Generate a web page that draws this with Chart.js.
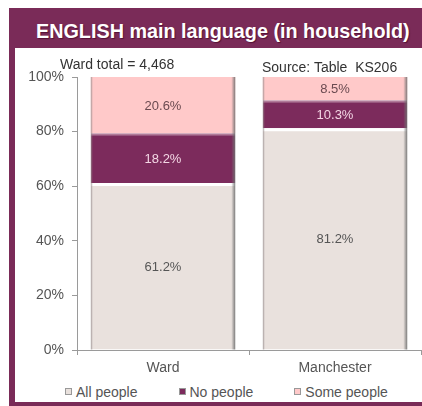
<!DOCTYPE html>
<html>
<head>
<meta charset="utf-8">
<title>ENGLISH main language (in household)</title>
<script src="https://cdn.jsdelivr.net/npm/chart.js@4/dist/chart.umd.min.js"></script>
<style>
  body { margin: 0; background: #fff; font-family: "Liberation Sans", Arial, sans-serif; }
  #frame { position: absolute; left: 9px; top: 8px; width: 413px; height: 398px; background: #7a2b58; }
  #title { position: absolute; left: 27px; top: 3px; height: 40px; line-height: 40px; color: #fff;
           font-weight: bold; font-size: 19.8px; white-space: nowrap; text-shadow: 1px 1px 1px rgba(60,0,30,.6); }
  #panel { position: absolute; left: 6px; top: 40px; width: 407px; height: 354px; background: #fff; overflow: hidden; }
  #chartBox { position: absolute; left: 0; top: 0; width: 407px; height: 332px; }
  .note { position: absolute; font-size: 14px; color: #333; white-space: pre; line-height: 16px; }
  #legend { position: absolute; left: 50px; top: 336px; display: flex; gap: 41px; font-size: 14px; color: #555; line-height: 16px; }
  #legend span.box { display: inline-block; width: 5px; height: 5px; margin-right: 4px; border: 1px solid #999; vertical-align: 2px; }
</style>
</head>
<body>
<div id="frame">
  <div id="title">ENGLISH main language (in household)</div>
  <div id="panel">
    <div id="chartBox"><canvas id="canvas_bar"></canvas></div>
    <div class="note" style="left:45px; top:8px;">Ward total = 4,468</div>
    <div class="note" style="left:247px; top:11px;">Source: Table  KS206</div>
    <div id="legend"></div>
  </div>
</div>
<script>
// categories and stacked shares (%)
const areas = ['Ward', 'Manchester'];
const allPeople = [61.2, 81.2];
const noPeople = [18.2, 10.3];
const somePeople = [20.6, 8.5];
const yTicks = [0, 20, 40, 60, 80, 100];

const font = { family: '"Liberation Sans", Arial, sans-serif', size: 14 };

// percentage written in the middle of every segment
const segmentLabels = {
  id: 'segmentLabels',
  afterDatasetsDraw(chart) {
    const ctx = chart.ctx;
    ctx.save();
    ctx.font = '13px "Liberation Sans", Arial, sans-serif';
    ctx.textAlign = 'center';
    ctx.textBaseline = 'middle';
    chart.data.datasets.forEach((ds, d) => {
      chart.getDatasetMeta(d).data.forEach((bar, i) => {
        const p = bar.getProps(['x', 'y', 'base'], true);
        ctx.fillStyle = ds.labelColor;
        ctx.fillText(ds.data[i].toFixed(1) + '%', p.x, (p.y + p.base) / 2 + 1);
      });
    });
    ctx.restore();
  }
};

// thin edge on the left and a grey shadow on the right of each column
const columnEdges = {
  id: 'columnEdges',
  afterDatasetsDraw(chart) {
    const ctx = chart.ctx;
    const n = chart.data.datasets.length;
    ctx.save();
    chart.getDatasetMeta(0).data.forEach((first, i) => {
      const last = chart.getDatasetMeta(n - 1).data[i];
      const left = first.x - first.width / 2;
      const right = first.x + first.width / 2;
      const top = last.y;
      const bottom = first.base;
      ctx.fillStyle = 'rgba(150,140,140,0.55)';
      ctx.fillRect(left, top, 1.5, bottom - top);
      const g = ctx.createLinearGradient(right - 4, 0, right, 0);
      g.addColorStop(0, 'rgba(120,120,120,0)');
      g.addColorStop(1, 'rgba(110,110,110,0.9)');
      ctx.fillStyle = g;
      ctx.fillRect(right - 4, top, 4, bottom - top);
    });
    ctx.restore();
  }
};

// legend built from the chart's own legend items
const htmlLegend = {
  id: 'htmlLegend',
  afterUpdate(chart) {
    const box = document.getElementById('legend');
    box.innerHTML = '';
    const items = chart.options.plugins.legend.labels.generateLabels(chart);
    items.forEach(item => {
      const el = document.createElement('div');
      const sw = document.createElement('span');
      sw.className = 'box';
      sw.style.background = item.fillStyle;
      el.appendChild(sw);
      el.appendChild(document.createTextNode(item.text));
      box.appendChild(el);
    });
  }
};

const data_bar = {
  labels: areas,
  datasets: [
    {
      label: 'All people',
      data: allPeople,
      backgroundColor: '#e9e1dd',
      borderColor: '#ffffff',
      borderWidth: { top: 3, left: 0, right: 0, bottom: 0 },
      labelColor: '#555555'
    },
    {
      label: 'No people',
      data: noPeople,
      backgroundColor: '#7c2b5c',
      borderColor: '#b07a98',
      borderWidth: { top: 2, left: 0, right: 0, bottom: 0 },
      labelColor: '#f3d6e4'
    },
    {
      label: 'Some people',
      data: somePeople,
      backgroundColor: '#ffc9c9',
      borderWidth: 0,
      labelColor: '#6a4a50'
    }
  ]
};

const config_bar = {
  type: 'bar',
  data: data_bar,
  options: {
    responsive: true,
    maintainAspectRatio: false,
    animation: false,
    layout: { padding: { top: 29, right: 1, left: 0, bottom: 0 } },
    datasets: { bar: { categoryPercentage: 1, barPercentage: 0.84 } },
    plugins: {
      legend: { display: false },
      tooltip: { enabled: false }
    },
    scales: {
      x: {
        stacked: true,
        grid: { drawOnChartArea: false, color: '#9a9a9a', tickLength: 5 },
        border: { color: '#9a9a9a' },
        ticks: { color: '#555', font: font, padding: 5 },
        afterFit(scale) { scale.height = 30; }
      },
      y: {
        stacked: true,
        min: 0,
        max: 100,
        afterBuildTicks(scale) { scale.ticks = yTicks.map(v => ({ value: v })); },
        grid: { drawOnChartArea: false, color: '#9a9a9a', tickLength: 5 },
        border: { color: '#9a9a9a' },
        ticks: { color: '#555', font: font, padding: 8, callback: v => v + '%' },
        afterFit(scale) { scale.width = 62; }
      }
    }
  },
  plugins: [columnEdges, segmentLabels, htmlLegend]
};

const canvas_bar = document.getElementById('canvas_bar');
const chart_bar = new Chart(canvas_bar, config_bar);
</script>
</body>
</html>
